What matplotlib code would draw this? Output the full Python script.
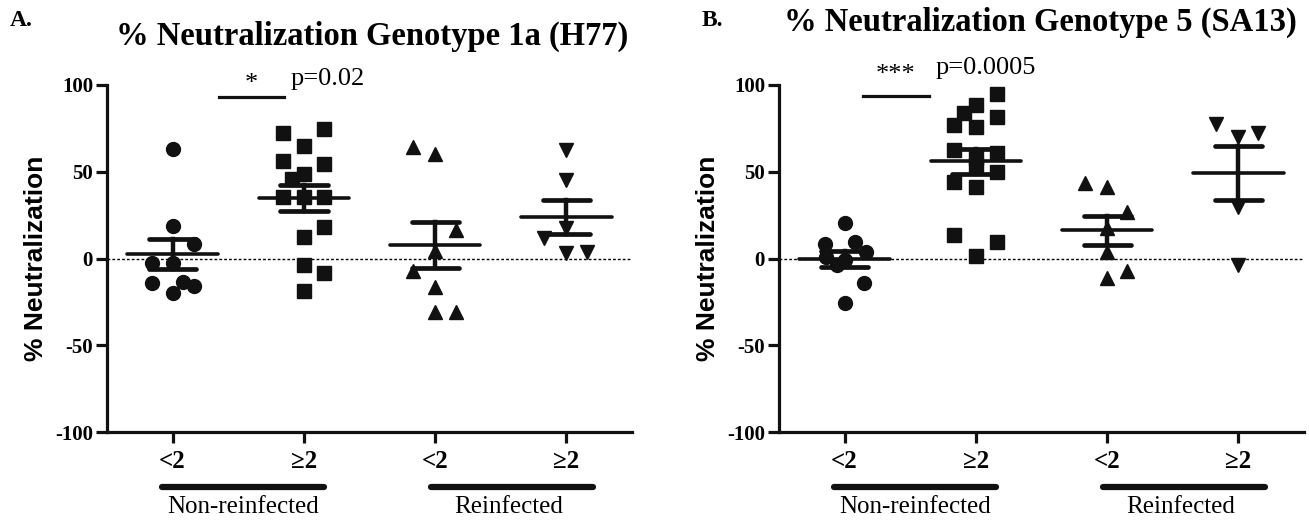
import numpy as np
import matplotlib
matplotlib.use("Agg")
import matplotlib.pyplot as plt

# ---------------- data ----------------
group_labels = ["<2", "\u22652", "<2", "\u22652"]
cohorts = ["Non-reinfected", "Reinfected"]
y_ticks = [100, 50, 0, -50, -100]

# Panel A: Genotype 1a (H77)
a_nr_lt2 = [63, 18.7, 8.4, -2.6, -2.6, -14, -20, -13.5, -16]
a_nr_lt2_dx = [0, 0, 0.16, -0.16, 0, -0.16, 0, 0.08, 0.16]
a_nr_ge2 = [72.2, 74.6, 64.8, 56.4, 54.5, 48.7, 45.6, 35.3, 35.3, 35.6, 18.3, 12.6, -3.7, -8.5, -18.6]
a_nr_ge2_dx = [-0.16, 0.15, 0, -0.16, 0.15, 0, -0.09, -0.16, 0, 0.15, 0.15, 0, 0, 0.15, 0]
a_re_lt2 = [64.1, 60.2, 16.4, 4.5, -7, -16.6, -30.6, -30.6]
a_re_lt2_dx = [-0.17, 0, 0.16, 0, -0.17, 0, 0, 0.16]
a_re_ge2 = [62.5, 45.2, 17.4, 11.6, 3.0, 3.9]
a_re_ge2_dx = [0, 0, 0, -0.17, 0, 0.16]

# Panel B: Genotype 5 (SA13)
b_nr_lt2 = [20.3, 9.3, 8.5, 3.9, 1.0, -0.9, -3.5, -14.3, -25.5]
b_nr_lt2_dx = [0, 0.08, -0.15, 0.16, -0.14, 0, -0.06, 0.15, 0]
b_nr_ge2 = [94.8, 88.5, 83.7, 81.8, 77, 76, 62.5, 60.6, 57.7, 54, 50, 44.3, 41.4, 13.5, 9.3, 1.6]
b_nr_ge2_dx = [0.16, 0, -0.09, 0.16, -0.17, 0, -0.17, 0.16, 0, 0, 0.16, -0.17, 0, -0.17, 0.16, 0]
b_re_lt2 = [43.3, 41, 27, 17.4, 3.9, -7, -11.4]
b_re_lt2_dx = [-0.17, 0, 0.15, 0, 0, 0.15, 0]
b_re_ge2 = [77.5, 70.2, 72.2, 29.9, -3.7]
b_re_ge2_dx = [-0.17, 0, 0.15, 0, 0]

panels = [
    dict(letter="A.", title="% Neutralization Genotype 1a (H77)",
         groups=[(a_nr_lt2, a_nr_lt2_dx), (a_nr_ge2, a_nr_ge2_dx),
                 (a_re_lt2, a_re_lt2_dx), (a_re_ge2, a_re_ge2_dx)],
         stars="*", pval="p=0.02", sig_span=(0.35, 0.85), sig_y=93,
         star_dy=1.5, p_dy=4),
    dict(letter="B.", title="% Neutralization Genotype 5 (SA13)",
         groups=[(b_nr_lt2, b_nr_lt2_dx), (b_nr_ge2, b_nr_ge2_dx),
                 (b_re_lt2, b_re_lt2_dx), (b_re_ge2, b_re_ge2_dx)],
         stars="***", pval="p=0.0005", sig_span=(0.14, 0.64), sig_y=93.5,
         star_dy=6, p_dy=10),
]

markers = ["o", "s", "^", "v"]
marker_sizes = [10, 10, 9.5, 9.5]

serif = ["Liberation Serif", "DejaVu Serif"]
sans = ["Liberation Sans", "DejaVu Sans"]

fig = plt.figure(figsize=(13.09, 5.23), dpi=100)
ax_lefts = [107 / 1309, 779 / 1309]
ax_w = 525 / 1309
ax_b = 1 - 432 / 523
ax_h = 347 / 523

for pi, p in enumerate(panels):
    ax = fig.add_axes([ax_lefts[pi], ax_b, ax_w, ax_h])
    ax.set_xlim(-0.5, 3.5)
    ax.set_ylim(-100, 100)
    ax.axhline(0, color="black", lw=1.0, ls=(0, (2, 1.5)), zorder=1)
    for gi, (vals, dx) in enumerate(p["groups"]):
        vals = np.asarray(vals, float)
        xs = gi + np.asarray(dx, float)
        ax.plot(xs, vals, ls="none", marker=markers[gi], ms=marker_sizes[gi],
                color="#111111", mec="#111111", zorder=3, clip_on=False)
        m = vals.mean()
        sem = vals.std(ddof=1) / np.sqrt(len(vals))
        ax.plot([gi - 0.345, gi + 0.345], [m, m], color="#111111", lw=2.6,
                solid_capstyle="round", zorder=4)
        ax.plot([gi, gi], [m - sem, m + sem], color="#111111", lw=3.2, zorder=4)
        for yy in (m - sem, m + sem):
            ax.plot([gi - 0.18, gi + 0.18], [yy, yy], color="#111111", lw=3.4,
                    solid_capstyle="round", zorder=4)
    for s in ("top", "right"):
        ax.spines[s].set_visible(False)
    for s in ("left", "bottom"):
        ax.spines[s].set_linewidth(2.3)
        ax.spines[s].set_color("#111111")
    ax.set_yticks(y_ticks)
    ax.set_yticklabels([str(t) for t in y_ticks], fontfamily=serif,
                       fontweight="bold", fontsize=15)
    ax.set_xticks(range(4))
    ax.set_xticklabels(group_labels, fontfamily=serif, fontweight="bold",
                       fontsize=18)
    ax.tick_params(axis="both", width=2.3, length=8, color="#111111")
    ax.tick_params(axis="x", pad=5)
    ax.tick_params(axis="y", pad=2)
    ax.set_ylabel("% Neutralization", fontfamily=sans, fontweight="bold",
                  fontsize=19, labelpad=5)
    trans = ax.get_xaxis_transform()
    for ci, (x0, x1, xc) in enumerate([(-0.08, 1.15, 0.54), (1.97, 3.2, 2.56)]):
        yb = -(487 - 432) / 347
        ax.plot([x0, x1], [yb, yb], transform=trans, color="#111111", lw=4.5,
                solid_capstyle="round", clip_on=False)
        ax.text(xc, -(507 - 432) / 347, cohorts[ci], transform=trans,
                ha="center", va="center", fontfamily=serif, fontsize=18)
    x0, x1 = p["sig_span"]
    ax.plot([x0, x1], [p["sig_y"], p["sig_y"]], color="#111111", lw=2.3,
            clip_on=False)
    ax.text((x0 + x1) / 2, p["sig_y"] + p["star_dy"], p["stars"], ha="center",
            va="bottom", fontfamily=serif, fontsize=19, clip_on=False)
    ax.text(x1 + 0.05, p["sig_y"] + p["p_dy"], p["pval"], ha="left",
            va="bottom", fontfamily=serif, fontsize=19, clip_on=False)

fig.text(10 / 1309, 1 - 20 / 523, "A.", fontfamily=serif, fontweight="bold",
         fontsize=17, ha="left", va="center")
fig.text(702 / 1309, 1 - 21 / 523, "B.", fontfamily=serif, fontweight="bold",
         fontsize=17, ha="left", va="center")
fig.text(372 / 1309, 1 - 36 / 523, panels[0]["title"], fontfamily=serif,
         fontweight="bold", fontsize=23.5, ha="center", va="center")
fig.text(1040 / 1309, 1 - 22 / 523, panels[1]["title"], fontfamily=serif,
         fontweight="bold", fontsize=23.5, ha="center", va="center")

fig.savefig("out.png", dpi=100)
